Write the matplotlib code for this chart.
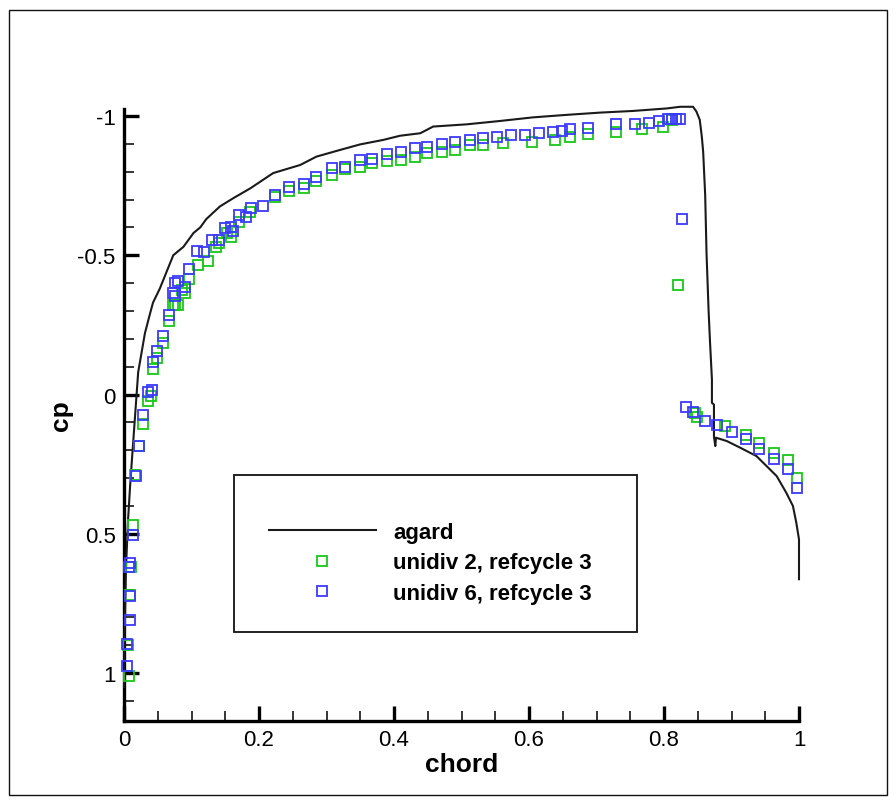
import numpy as np
import matplotlib
matplotlib.use("Agg")
import matplotlib.pyplot as plt
from matplotlib.ticker import MultipleLocator, FixedLocator, FixedFormatter
from matplotlib.patches import Rectangle

plt.rcParams['font.family'] = ['Liberation Sans', 'DejaVu Sans']

# reference (agard) pressure distribution
agard_x = [0.0, 0.001, 0.003, 0.006, 0.009, 0.011, 0.016, 0.021, 0.026, 0.031,
           0.0385, 0.043, 0.053, 0.063, 0.073, 0.088, 0.103, 0.113, 0.122, 0.142,
           0.162, 0.187, 0.221, 0.261, 0.285, 0.32, 0.35, 0.384, 0.409, 0.439,
           0.458, 0.508, 0.557, 0.606, 0.656, 0.705, 0.754, 0.804, 0.824, 0.843,
           0.848, 0.853, 0.856, 0.858, 0.861, 0.863, 0.866, 0.868, 0.871, 0.871,
           0.874, 0.874, 0.876, 0.877, 0.893, 0.913, 0.937, 0.952, 0.967, 0.981,
           0.991, 0.996, 1.0, 1.0]
agard_cp = [1.05, 0.85, 0.62, 0.45, 0.33, 0.26, 0.09, -0.08, -0.15, -0.22,
            -0.29, -0.33, -0.38, -0.44, -0.50, -0.53, -0.58, -0.60, -0.63, -0.675,
            -0.705, -0.74, -0.795, -0.824, -0.854, -0.878, -0.898, -0.914, -0.929, -0.938,
            -0.962, -0.970, -0.982, -0.995, -1.004, -1.012, -1.018, -1.027, -1.033, -1.033,
            -1.016, -0.986, -0.926, -0.872, -0.717, -0.508, -0.305, -0.197, -0.054, 0.03,
            0.036, 0.15, 0.185, 0.155, 0.167, 0.191, 0.221, 0.257, 0.293, 0.352,
            0.40, 0.46, 0.52, 0.663]

# unidiv 2, refcycle 3
uni2_x = [0.007, 0.006, 0.009, 0.010, 0.013, 0.017, 0.022, 0.028, 0.035, 0.040,
          0.043, 0.049, 0.058, 0.067, 0.072, 0.076, 0.080, 0.086, 0.090, 0.096,
          0.109, 0.124, 0.137, 0.140, 0.152, 0.159, 0.171, 0.187, 0.224, 0.245,
          0.266, 0.285, 0.308, 0.327, 0.349, 0.368, 0.389, 0.410, 0.431, 0.449,
          0.471, 0.490, 0.512, 0.532, 0.562, 0.604, 0.639, 0.660, 0.687, 0.729,
          0.767, 0.799, 0.812, 0.820,
          0.846, 0.849, 0.891, 0.921, 0.941, 0.963, 0.983, 0.997]
uni2_cp = [1.01, 0.90, 0.72, 0.62, 0.47, 0.29, 0.185, 0.105, 0.025, 0.005,
           -0.09, -0.13, -0.185, -0.263, -0.322, -0.322, -0.322, -0.376, -0.365, -0.415,
           -0.466, -0.48, -0.53, -0.545, -0.58, -0.567, -0.62, -0.657, -0.71, -0.73,
           -0.74, -0.765, -0.789, -0.81, -0.818, -0.832, -0.837, -0.842, -0.854, -0.866,
           -0.87, -0.878, -0.894, -0.894, -0.903, -0.906, -0.912, -0.923, -0.935, -0.944,
           -0.953, -0.96, -0.985, -0.394,
           0.066, 0.08, 0.114, 0.147, 0.173, 0.211, 0.235, 0.301]

# unidiv 6, refcycle 3
uni6_x = [0.004, 0.004, 0.009, 0.009, 0.009, 0.008, 0.013, 0.018, 0.022, 0.028,
          0.035, 0.041, 0.043, 0.049, 0.058, 0.067, 0.072, 0.076, 0.076, 0.080,
          0.090, 0.096, 0.108, 0.1185, 0.130, 0.140, 0.150, 0.158, 0.162, 0.171,
          0.181, 0.188, 0.2055, 0.224, 0.245, 0.266, 0.285, 0.308, 0.327, 0.349,
          0.368, 0.389, 0.410, 0.431, 0.449, 0.471, 0.490, 0.512, 0.532, 0.553,
          0.574, 0.594, 0.615, 0.636, 0.649, 0.660, 0.687, 0.729, 0.757, 0.778,
          0.793, 0.806, 0.812, 0.818, 0.824, 0.826,
          0.833, 0.843, 0.861, 0.879, 0.900, 0.921, 0.941, 0.963, 0.983, 0.997]
uni6_cp = [0.974, 0.896, 0.81, 0.725, 0.606, 0.62, 0.505, 0.294, 0.183, 0.075,
           -0.01, -0.018, -0.116, -0.155, -0.209, -0.287, -0.365, -0.352, -0.40, -0.406,
           -0.387, -0.452, -0.516, -0.51, -0.553, -0.553, -0.597, -0.603, -0.588, -0.645,
           -0.637, -0.669, -0.675, -0.717, -0.744, -0.756, -0.78, -0.812, -0.818, -0.842,
           -0.846, -0.863, -0.872, -0.884, -0.89, -0.90, -0.906, -0.914, -0.922, -0.926,
           -0.932, -0.932, -0.94, -0.941, -0.947, -0.954, -0.958, -0.971, -0.971, -0.976,
           -0.983, -0.988, -0.99, -0.99, -0.99, -0.631,
           0.043, 0.062, 0.096, 0.108, 0.135, 0.159, 0.197, 0.233, 0.266, 0.337]

x_ticks = [0, 0.2, 0.4, 0.6, 0.8, 1.0]
x_ticklabels = ["0", "0.2", "0.4", "0.6", "0.8", "1"]
y_ticks = [-1, -0.5, 0, 0.5, 1]
y_ticklabels = ["-1", "-0.5", "0", "0.5", "1"]

green = '#18c818'
blue = '#3a3aff'

W, H = 896, 804
fig = plt.figure(figsize=(W / 100, H / 100), dpi=100)
ax = fig.add_axes([124 / W, 1 - 722 / H, (799 - 124) / W, (722 - 110) / H])

ax.plot(agard_x, agard_cp, color='#1a1a1a', lw=1.5, label='agard', zorder=3,
        clip_on=False)
ax.plot(uni2_x, uni2_cp, ls='none', marker='s', ms=7, mfc='none', mec=green,
        mew=1.3, label='unidiv 2, refcycle 3', zorder=4, clip_on=False)
ax.plot(uni6_x, uni6_cp, ls='none', marker='s', ms=7, mfc='none', mec=blue,
        mew=1.3, label='unidiv 6, refcycle 3', zorder=5, clip_on=False)

ax.set_xlim(0, 1)
ax.set_ylim(1.172, -1.025)

ax.spines['top'].set_visible(False)
ax.spines['right'].set_visible(False)
for s in ('left', 'bottom'):
    ax.spines[s].set_linewidth(2.4)

ax.xaxis.set_major_locator(FixedLocator(x_ticks))
ax.xaxis.set_major_formatter(FixedFormatter(x_ticklabels))
ax.yaxis.set_major_locator(FixedLocator(y_ticks))
ax.yaxis.set_major_formatter(FixedFormatter(y_ticklabels))
ax.xaxis.set_minor_locator(MultipleLocator(0.05))
ax.yaxis.set_minor_locator(MultipleLocator(0.1))
ax.tick_params(which='major', direction='in', length=11, width=2.4,
               labelsize=16, pad=6)
ax.tick_params(which='minor', direction='in', length=7, width=1.1)

ax.set_xlabel('chord', fontsize=19, fontweight='bold', labelpad=1)
ax.set_ylabel('cp', fontsize=19, fontweight='bold', labelpad=3)

# legend box
fig.patches.append(Rectangle((234 / W, 1 - 633 / H), (637 - 234) / W, (633 - 476) / H,
                             transform=fig.transFigure, fill=False,
                             edgecolor='#111111', lw=1.3))
leg = ax.legend(loc='upper left', bbox_to_anchor=(269 / W, 1 - 523 / H),
                bbox_transform=fig.transFigure, frameon=False, borderpad=0,
                borderaxespad=0, handlelength=4.8, handletextpad=0.8,
                labelspacing=0.42, numpoints=1,
                prop={'size': 16, 'weight': 'bold'})

# outer frame
fig.patches.append(Rectangle((9 / W, 1 - 796 / H), (887 - 9) / W, (796 - 11) / H,
                             transform=fig.transFigure, fill=False,
                             edgecolor='#111111', lw=1.0))

fig.savefig('out.png', dpi=100)
